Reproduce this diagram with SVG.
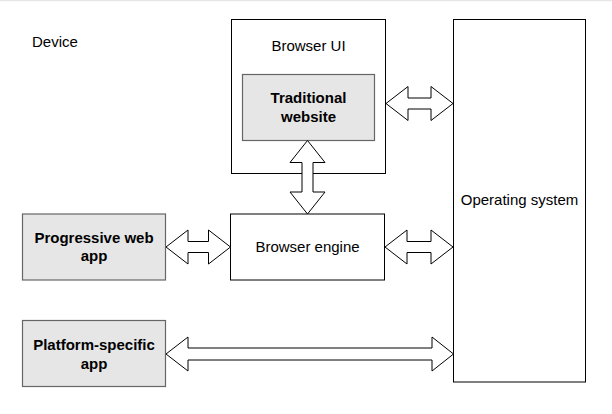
<svg xmlns="http://www.w3.org/2000/svg" width="612" height="414" viewBox="0 0 612 414">
<style>
.box{fill:#ffffff;stroke:#000000;stroke-width:1}
.gbox{fill:#e6e6e6;stroke:#666666;stroke-width:1.2}
.t{font-family:"Liberation Sans",Arial,sans-serif;font-size:15px;fill:#000000;text-anchor:middle}
.b{font-weight:bold}
.arr{fill:#ffffff;stroke:#000000;stroke-width:1;stroke-linejoin:miter}
</style>
<rect x="0" y="0" width="612" height="414" fill="#ffffff"/>
<line x1="0" y1="0.5" x2="612" y2="0.5" stroke="#e6e6e6" stroke-width="1.5"/>
<g id="device"><text class="t" x="32" y="47" style="text-anchor:start">Device</text></g>
<g id="browser-ui">
<rect class="box" x="231.5" y="19.5" width="154" height="154"/>
<text class="t" x="308.5" y="51">Browser UI</text>
</g>
<g id="traditional-website">
<rect class="gbox" x="242.5" y="74.5" width="132" height="66"/>
<text class="t b" x="308.5" y="103">Traditional</text>
<text class="t b" x="308.5" y="121.5">website</text>
</g>
<g id="operating-system">
<rect class="box" x="453.5" y="19.5" width="132" height="362.5"/>
<text class="t" x="519.5" y="205">Operating system</text>
</g>
<g id="browser-engine">
<rect class="box" x="230.5" y="214" width="154" height="66"/>
<text class="t" x="307.5" y="252">Browser engine</text>
</g>
<g id="progressive-web-app">
<rect class="gbox" x="22.5" y="214" width="143" height="66"/>
<text class="t b" x="94" y="243">Progressive web</text>
<text class="t b" x="94" y="261">app</text>
</g>
<g id="platform-specific-app">
<rect class="gbox" x="22.5" y="320.5" width="143" height="66"/>
<text class="t b" x="94" y="350">Platform-specific</text>
<text class="t b" x="94" y="368.5">app</text>
</g>
<g id="connectors">
<polygon class="arr" points="386,103.5 408,86.5 408,98 431,98 431,86.5 453,103.5 431,120.5 431,109 408,109 408,120.5"/>
<polygon class="arr" points="385,247 407,230 407,241.5 431,241.5 431,230 453,247 431,264 431,252.5 407,252.5 407,264"/>
<polygon class="arr" points="166,247 188,230 188,241.5 208.5,241.5 208.5,230 230.5,247 208.5,264 208.5,252.5 188,252.5 188,264"/>
<polygon class="arr" points="166,354 188,337 188,348 432,348 432,337 453.5,354 432,371 432,360 188,360 188,371"/>
<polygon class="arr" points="307.5,140.5 325,162.5 313,162.5 313,192 325,192 307.5,214 290,192 302,192 302,162.5 290,162.5"/>
</g>
</svg>
